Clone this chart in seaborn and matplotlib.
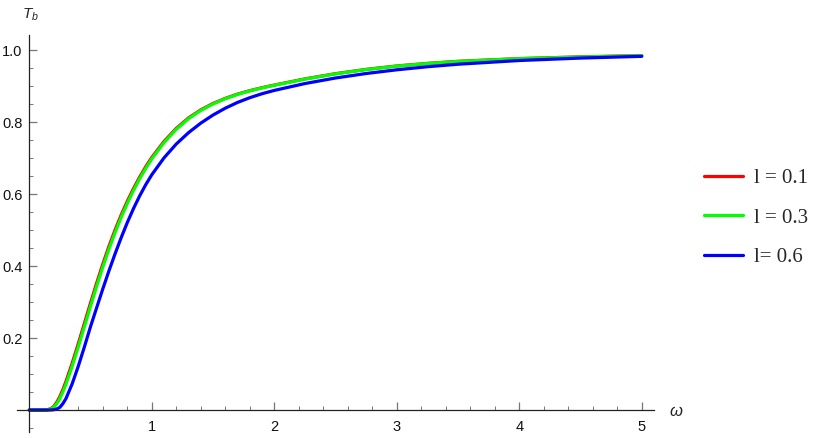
import numpy as np
import pandas as pd
import matplotlib
matplotlib.use("Agg")
import matplotlib.pyplot as plt
from matplotlib.ticker import MultipleLocator, FixedLocator
import seaborn as sns

# ---- data ----
omega = [0.0, 0.1, 0.125, 0.15, 0.175, 0.2, 0.225, 0.25, 0.275, 0.3,
         0.35, 0.4, 0.45, 0.5, 0.55, 0.6, 0.65, 0.7, 0.75, 0.8, 0.85, 0.9, 0.95, 1.0,
         1.1, 1.2, 1.3, 1.4, 1.5, 1.6, 1.7, 1.8, 1.9, 2.0,
         2.25, 2.5, 2.75, 3.0, 3.25, 3.5, 4.0, 4.5, 5.0]
T_l01 = [0, 0, 0.0002, 0.0011, 0.004, 0.0099, 0.022, 0.0376, 0.0574, 0.0799,
         0.1298, 0.1842, 0.2407, 0.2974, 0.3526, 0.4051, 0.4544, 0.4999, 0.5417, 0.5799,
         0.6148, 0.6466, 0.6756, 0.7017,
         0.7463, 0.7826, 0.8116, 0.8341, 0.8518, 0.8660, 0.8778, 0.8874, 0.8957, 0.9029,
         0.9201, 0.9346, 0.9465, 0.9560, 0.9632, 0.9689, 0.9765, 0.9813, 0.9847]
T_l03 = [0, 0, 0.0001, 0.0007, 0.003, 0.0075, 0.018, 0.032, 0.0509, 0.0725,
         0.1215, 0.1753, 0.2316, 0.2884, 0.3439, 0.3969, 0.4467, 0.4928, 0.5352, 0.5740,
         0.6094, 0.6417, 0.6711, 0.6977,
         0.7430, 0.7800, 0.8095, 0.8325, 0.8505, 0.8650, 0.8769, 0.8867, 0.8951, 0.9023,
         0.9195, 0.9340, 0.9460, 0.9555, 0.9628, 0.9685, 0.9762, 0.9810, 0.9845]
T_l06 = [0, 0, 0, 0, 0.0001, 0.0007, 0.003, 0.0075, 0.018, 0.032,
         0.0725, 0.1215, 0.1753, 0.2316, 0.2841, 0.3361, 0.3861, 0.4336, 0.4786, 0.5206,
         0.5591, 0.5941, 0.6256, 0.6536,
         0.7006, 0.7391, 0.7706, 0.7971, 0.8196, 0.8386, 0.8546, 0.8678, 0.8788, 0.8880,
         0.9071, 0.9225, 0.9350, 0.9453, 0.9538, 0.9608, 0.9711, 0.9779, 0.9827]
labels = ["l = 0.1", "l = 0.3", "l= 0.6"]
colors = ["#ff0000", "#00ff00", "#0000ff"]
x_ticks = [1, 2, 3, 4, 5]
y_ticks = [0.2, 0.4, 0.6, 0.8, 1.0]

df = pd.concat([
    pd.DataFrame({"omega": omega, "T": T_l01, "l": labels[0]}),
    pd.DataFrame({"omega": omega, "T": T_l03, "l": labels[1]}),
    pd.DataFrame({"omega": omega, "T": T_l06, "l": labels[2]}),
], ignore_index=True)

sns.set_theme(style="white")
plt.rcParams["font.family"] = ["Liberation Sans", "DejaVu Sans"]
plt.rcParams["mathtext.fontset"] = "custom"
plt.rcParams["mathtext.it"] = "Liberation Sans:italic"
plt.rcParams["mathtext.rm"] = "Liberation Sans"

fig = plt.figure(figsize=(8.30, 4.38), dpi=100)
ax = fig.add_axes([17 / 830, 1 - 432 / 438, 637 / 830, (432 - 35) / 438])

sns.lineplot(data=df, x="omega", y="T", hue="l", palette=colors,
             hue_order=labels, linewidth=2.3, estimator=None, sort=False, ax=ax)

ax.set_xlim(-0.1, 5.1)
ax.set_ylim(-0.061, 1.042)

for s in ["top", "right"]:
    ax.spines[s].set_visible(False)
ax.spines["left"].set_position(("data", 0))
ax.spines["bottom"].set_position(("data", 0))
for s in ["left", "bottom"]:
    ax.spines[s].set_color("#222222")
    ax.spines[s].set_linewidth(0.9)

ax.xaxis.set_major_locator(FixedLocator(x_ticks))
ax.xaxis.set_minor_locator(MultipleLocator(0.2))
ax.yaxis.set_major_locator(FixedLocator(y_ticks))
ax.yaxis.set_minor_locator(MultipleLocator(0.05))
ax.set_xticklabels([str(v) for v in x_ticks])
ax.set_yticklabels([f"{v:.1f}" for v in y_ticks])

ax.tick_params(axis="both", which="both", direction="in", color="#777777",
               labelsize=10.5, labelcolor="#111111", left=True, bottom=True)
ax.tick_params(axis="both", which="major", length=5.5, width=0.9)
ax.tick_params(axis="both", which="minor", length=3.2, width=0.7)
ax.tick_params(axis="y", which="major", pad=5)
ax.tick_params(axis="x", which="major", pad=7)

ax.set_xlabel("")
ax.set_ylabel("")

fig.text(30 / 830, 1 - 15 / 438, r"$T_b$", ha="center", va="center", fontsize=11)
fig.text(676 / 830, 1 - 412 / 438, r"$\omega$", ha="center", va="center", fontsize=12)

handles, lbls = ax.get_legend_handles_labels()
ax.get_legend().remove()
leg = fig.legend(handles, lbls, loc="center left", bbox_to_anchor=(704 / 830, 1 - 218 / 438),
                 frameon=False, borderpad=0, borderaxespad=0, handlelength=1.85,
                 handletextpad=0.55, labelspacing=0.95,
                 prop={"family": "Liberation Serif", "size": 15})
for h in leg.get_lines():
    h.set_linewidth(2.3)

fig.savefig("out.png", dpi=100)
